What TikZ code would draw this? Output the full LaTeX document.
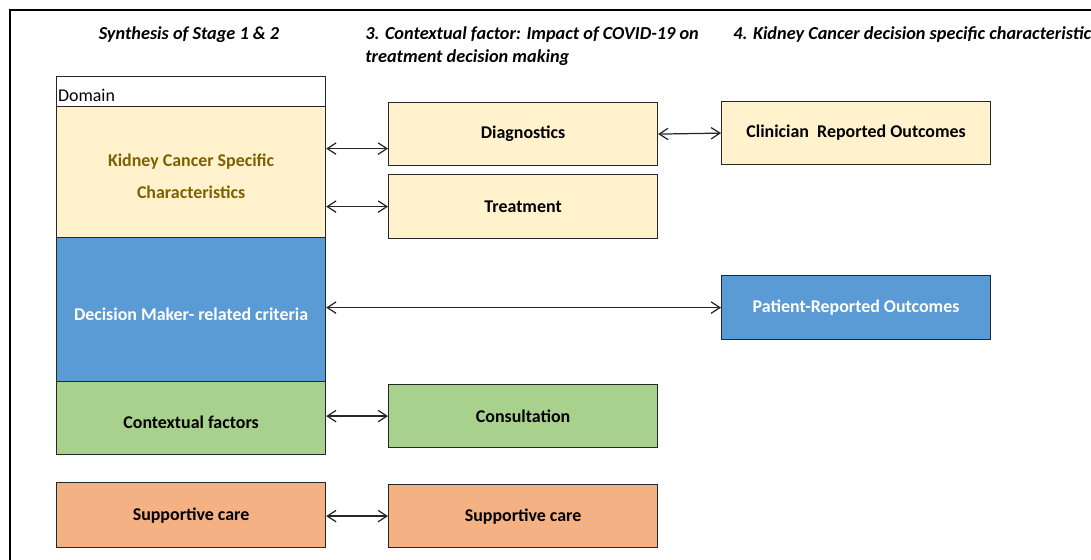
\documentclass[tikz,border=0pt]{standalone}
\usepackage{fontspec}
\setmainfont{Carlito}
\usetikzlibrary{arrows.meta, calc}

\definecolor{kcsfill}{HTML}{FFF2CC}
\definecolor{kcstext}{HTML}{7F6000}
\definecolor{dmfill}{HTML}{5B9BD5}
\definecolor{cffill}{HTML}{A9D18E}
\definecolor{scfill}{HTML}{F4B183}

\begin{document}
\begin{tikzpicture}[x=0.02cm, y=-0.02cm,
     box/.style={draw=black!85, line width=0.7pt, minimum width=5.38cm, inner sep=0pt,
                 anchor=north west, align=center, font=\bfseries\fontsize{10.2}{12}\selectfont},
     head/.style={font=\bfseries\itshape\fontsize{10.4}{13.2}\selectfont, inner sep=0pt},
     dbl/.style={{Straight Barb[length=5pt,width=6.5pt]}-{Straight Barb[length=5pt,width=6.5pt]},
                 line width=0.7pt, draw=black!85}
     ]
\useasboundingbox (0,0) rectangle (1091,560);

%Left edges of the three columns
\def \xa{56}
\def \xb{388}
\def \xc{721}

%Frame round the figure
\draw[line width=0.6pt] (10,560) -- (10,10) -- (1091,10);

%Column headings
\node[head, anchor=base] (h1) at (189,40) {Synthesis of Stage 1 \& 2};
\node[head, anchor=north west, align=left] (h2) at (365,26)
   {3. Contextual factor: Impact of COVID-19 on\\treatment decision making};
\node[head, anchor=base west] (h3) at (733,40) {4. Kidney Cancer decision specific characteristics};

%Synthesis column
\node[box, fill=white, minimum height=0.6cm] (dom) at (\xa,76) {};
\node[anchor=south west, inner sep=1pt, yshift=2pt, font=\fontsize{10.2}{12}\selectfont] (domtxt) at (dom.south west) {Domain};
\node[box, fill=kcsfill, text=kcstext, minimum height=2.62cm, font=\bfseries\fontsize{10.2}{18.6}\selectfont] (kcs) at (\xa,106)
   {\rule{0pt}{12pt}Kidney Cancer Specific\\Characteristics};
\node[box, fill=dmfill, text=white, minimum height=2.88cm] (dm) at (\xa,237) {\rule{0pt}{12pt}Decision Maker- related criteria};
\node[box, fill=cffill, minimum height=1.46cm] (cf) at (\xa,381) {\rule{0pt}{12pt}Contextual factors};
\node[box, fill=scfill, minimum height=1.3cm] (sc1) at (\xa,482) {Supportive care};

%COVID-19 column
\node[box, fill=kcsfill, minimum height=1.26cm] (diag) at (\xb,102) {Diagnostics};
\node[box, fill=kcsfill, minimum height=1.28cm] (treat) at (\xb,174) {Treatment};
\node[box, fill=cffill, minimum height=1.26cm] (cons) at (\xb,384) {Consultation};
\node[box, fill=scfill, minimum height=1.26cm] (sc2) at (\xb,484) {Supportive care};

%Outcomes column
\node[box, fill=kcsfill, minimum height=1.26cm] (clin) at (\xc,101) {Clinician\ \ Reported Outcomes};
\node[box, fill=dmfill, text=white, minimum height=1.28cm] (pro) at (\xc,275) {Patient-Reported Outcomes};

%Links
\coordinate (d1) at ([yshift=-0.29cm]diag.west);
\draw[dbl] (kcs.east |- d1) -- (d1);
\draw[dbl] (kcs.east |- treat.west) -- (treat.west);
\draw[dbl] (diag.east) -- (clin.west);
\draw[dbl] (dm.east |- pro.west) -- (pro.west);
\draw[dbl] (cf.east |- cons.west) -- (cons.west);
\draw[dbl] (sc1.east |- sc2.west) -- (sc2.west);
\end{tikzpicture}
\end{document}
